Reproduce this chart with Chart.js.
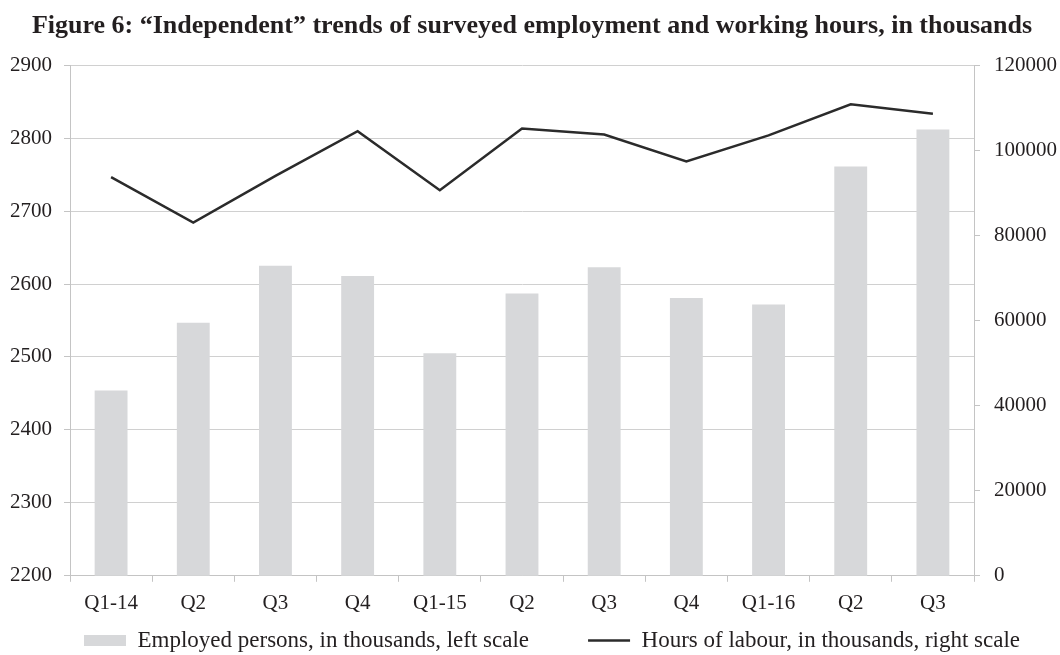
<!DOCTYPE html>
<html>
<head>
<meta charset="utf-8">
<title>Figure 6</title>
<script src="https://cdn.jsdelivr.net/npm/chart.js@4/dist/chart.umd.min.js"></script>
<style>
  html, body { margin: 0; padding: 0; background: #ffffff; }
  canvas { display: block; }
</style>
</head>
<body>
<canvas id="chart" width="1060" height="655"></canvas>
<script>
// Quarters shown on the x axis
const quarters = ['Q1-14', 'Q2', 'Q3', 'Q4', 'Q1-15', 'Q2', 'Q3', 'Q4', 'Q1-16', 'Q2', 'Q3'];
// Employed persons, thousands (left scale)
const employed = [2454, 2547, 2625, 2611, 2505, 2587, 2623, 2581, 2572, 2761, 2812];
// Hours of labour, thousands (right scale)
const hours = [93700, 83000, 94000, 104500, 90600, 105100, 103700, 97400, 103500, 110800, 108600];

const employedLabel = 'Employed persons, in thousands, left scale';
const hoursLabel = 'Hours of labour, in thousands, right scale';
const titleText = 'Figure 6: \u201CIndependent\u201D trends of surveyed employment and working hours, in thousands';

const FONT = "'Liberation Serif', 'Times New Roman', serif";
const TEXT = '#231f20';
const BAR = '#d7d8da';
const LINE = '#2b2b2b';
const GRID = '#d0d0d0';
const AXIS = '#c4c4c4';

const PAD_LEFT = 4;
const AREA_LEFT = 70, AREA_RIGHT = 974;
const LEGEND_FONT = 23;
const LEGEND_GAP = 59;       // space between the two legend entries
const LEGEND_X = 84;         // left edge of the first legend swatch
const LEGEND_CY = 640.5;     // vertical centre of the legend row

const plain = v => String(v);

// Puts the legend row at a fixed spot under the x-axis labels.
const legendPlacement = {
  id: 'legendPlacement',
  afterLayout(chart) {
    const lg = chart.legend;
    if (!lg) return;
    const p = lg.options.labels.padding;
    lg.left = LEGEND_X - p;
    lg.right = chart.width + 200;
    lg.width = lg.right - lg.left;
    lg.top = LEGEND_CY - LEGEND_FONT / 2 - p;
    lg.bottom = chart.height;
    lg.height = lg.bottom - lg.top;
  }
};

new Chart(document.getElementById('chart'), {
  data: {
    labels: quarters,
    datasets: [
      {
        type: 'bar',
        label: employedLabel,
        data: employed,
        yAxisID: 'yLeft',
        backgroundColor: BAR,
        borderWidth: 0,
        barPercentage: 0.4,
        categoryPercentage: 1.0,
        order: 2
      },
      {
        type: 'line',
        label: hoursLabel,
        data: hours,
        yAxisID: 'yRight',
        borderColor: LINE,
        backgroundColor: LINE,
        borderWidth: 2.5,
        tension: 0,
        pointRadius: 0,
        fill: false,
        order: 1
      }
    ]
  },
  plugins: [legendPlacement],
  options: {
    responsive: false,
    animation: false,
    devicePixelRatio: 1,
    layout: { padding: { left: PAD_LEFT, right: 0, top: 0, bottom: 0 } },
    plugins: {
      tooltip: { enabled: false },
      title: {
        display: true,
        text: titleText,
        align: 'center',
        color: TEXT,
        font: { family: FONT, size: 26, weight: 'bold' },
        padding: { top: 11, bottom: 23 }
      },
      legend: {
        display: true,
        position: 'bottom',
        align: 'start',
        maxHeight: 30,
        labels: {
          color: TEXT,
          font: { family: FONT, size: LEGEND_FONT },
          usePointStyle: true,
          pointStyleWidth: 42,
          boxHeight: 11,
          padding: LEGEND_GAP,
          generateLabels: chart => chart.data.datasets.map((ds, i) => {
            const isLine = ds.type === 'line';
            return {
              text: ds.label,
              datasetIndex: i,
              fillStyle: isLine ? ds.borderColor : ds.backgroundColor,
              strokeStyle: isLine ? ds.borderColor : ds.backgroundColor,
              lineWidth: isLine ? 2.5 : 0,
              pointStyle: isLine ? 'line' : 'rect',
              fontColor: TEXT,
              hidden: false
            };
          })
        }
      }
    },
    scales: {
      x: {
        type: 'category',
        offset: true,
        grid: { display: true, drawOnChartArea: false, drawTicks: true, tickLength: 6, color: AXIS, offset: true },
        border: { display: true, color: AXIS, width: 1 },
        ticks: { color: TEXT, font: { family: FONT, size: 21 }, padding: 9, maxRotation: 0, autoSkip: false }
      },
      yLeft: {
        type: 'linear',
        position: 'left',
        min: 2200,
        max: 2900,
        ticks: { stepSize: 100, color: TEXT, font: { family: FONT, size: 21 }, padding: 12, callback: plain },
        grid: { color: GRID, lineWidth: 1, drawTicks: true, tickLength: 6, tickColor: AXIS },
        border: { display: true, color: AXIS, width: 1 },
        afterFit: s => { s.width = AREA_LEFT - PAD_LEFT; }
      },
      yRight: {
        type: 'linear',
        position: 'right',
        min: 0,
        max: 120000,
        ticks: { stepSize: 20000, color: TEXT, font: { family: FONT, size: 21 }, padding: 14, callback: plain },
        grid: { drawOnChartArea: false, drawTicks: true, tickLength: 6, color: AXIS },
        border: { display: true, color: AXIS, width: 1 },
        afterFit: s => { s.width = 1060 - AREA_RIGHT; }
      }
    }
  }
});
</script>
</body>
</html>
